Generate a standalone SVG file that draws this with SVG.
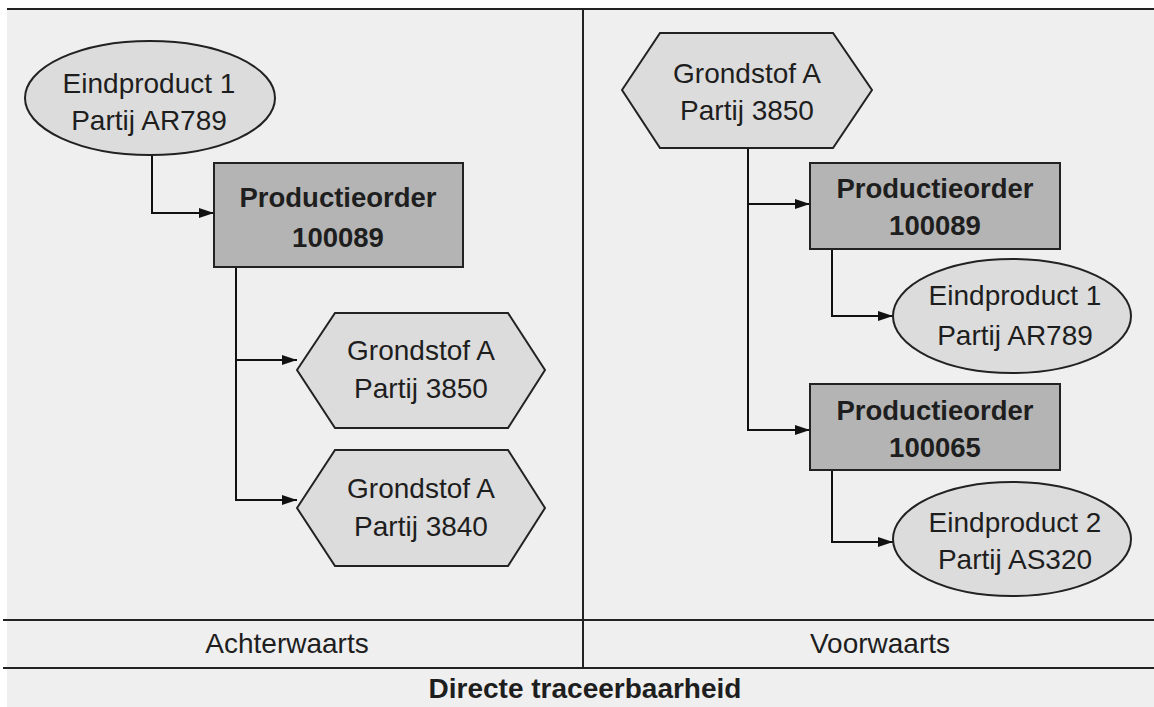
<svg xmlns="http://www.w3.org/2000/svg" width="1154" height="707" viewBox="0 0 1154 707">
  <defs>
    <marker id="arrow" viewBox="0 0 15 10" refX="15" refY="5" markerWidth="15" markerHeight="10" markerUnits="userSpaceOnUse" orient="auto">
      <path d="M0,0 L15,5 L0,10 z" fill="#111"/>
    </marker>
    <style>
      .frame { stroke: #222; stroke-width: 2; fill: none; }
      .hex { fill: #dcdcdc; stroke: #222; stroke-width: 2; }
      .ell { fill: #dcdcdc; stroke: #222; stroke-width: 2; }
      .box { fill: #b4b4b4; stroke: #222; stroke-width: 2; }
      .conn { fill: none; stroke: #111; stroke-width: 2; marker-end: url(#arrow); }
      text { font-family: "Liberation Sans", Arial, sans-serif; font-size: 28px; fill: #1e1e1e; text-anchor: middle; }
      .b { font-weight: bold; font-size: 27.5px; }
    </style>
  </defs>

  <!-- page background -->
  <rect x="0" y="0" width="1154" height="707" fill="#ffffff"/>
  <rect x="7" y="9" width="1147" height="698" fill="#efefef"/>

  <!-- table frame -->
  <g id="frame">
    <line class="frame" x1="7" y1="9" x2="1154" y2="9"/>
    <line class="frame" x1="583" y1="9" x2="583" y2="668"/>
    <line class="frame" x1="3" y1="620" x2="1154" y2="620"/>
    <line class="frame" x1="3" y1="668" x2="1154" y2="668"/>
    <text x="287" y="653">Achterwaarts</text>
    <text x="880" y="653">Voorwaarts</text>
    <text class="b" x="585" y="698" style="font-size:28px">Directe traceerbaarheid</text>
  </g>

  <!-- connectors -->
  <g id="connectors">
    <path class="conn" d="M152,155 V213 H214"/>
    <path class="conn" d="M236,267 V360 H297"/>
    <path class="conn" d="M236,360 V500 H297"/>
    <path class="conn" d="M748,148 V204 H810"/>
    <path class="conn" d="M748,204 V430 H810"/>
    <path class="conn" d="M832,249 V316 H893"/>
    <path class="conn" d="M832,470 V542 H893"/>
  </g>

  <!-- backward tracing -->
  <g id="end-product-1-left">
    <ellipse class="ell" cx="150" cy="98" rx="125" ry="57"/>
    <text x="149" y="93">Eindproduct 1</text>
    <text x="149" y="130">Partij AR789</text>
  </g>
  <g id="order-100089-left">
    <rect class="box" x="214" y="163" width="249" height="104"/>
    <text class="b" x="338" y="207">Productieorder</text>
    <text class="b" x="338" y="247">100089</text>
  </g>
  <g id="raw-3850-left">
    <polygon class="hex" points="297,370 335,313 508,313 545,370 508,428 335,428"/>
    <text x="421" y="360">Grondstof A</text>
    <text x="421" y="398">Partij 3850</text>
  </g>
  <g id="raw-3840-left">
    <polygon class="hex" points="297,508 335,450 508,450 545,508 508,566 335,566"/>
    <text x="421" y="498">Grondstof A</text>
    <text x="421" y="536">Partij 3840</text>
  </g>

  <!-- forward tracing -->
  <g id="raw-3850-right">
    <polygon class="hex" points="622,90 660,33 833,33 872,90 833,148 660,148"/>
    <text x="747" y="83">Grondstof A</text>
    <text x="747" y="120">Partij 3850</text>
  </g>
  <g id="order-100089-right">
    <rect class="box" x="810" y="163" width="250" height="86"/>
    <text class="b" x="935" y="198">Productieorder</text>
    <text class="b" x="935" y="235">100089</text>
  </g>
  <g id="end-product-1-right">
    <ellipse class="ell" cx="1012" cy="316" rx="119" ry="57"/>
    <text x="1015" y="305">Eindproduct 1</text>
    <text x="1015" y="345">Partij AR789</text>
  </g>
  <g id="order-100065-right">
    <rect class="box" x="810" y="384" width="250" height="86"/>
    <text class="b" x="935" y="420">Productieorder</text>
    <text class="b" x="935" y="457">100065</text>
  </g>
  <g id="end-product-2-right">
    <ellipse class="ell" cx="1012" cy="539" rx="119" ry="57"/>
    <text x="1015" y="532">Eindproduct 2</text>
    <text x="1015" y="569">Partij AS320</text>
  </g>
</svg>
